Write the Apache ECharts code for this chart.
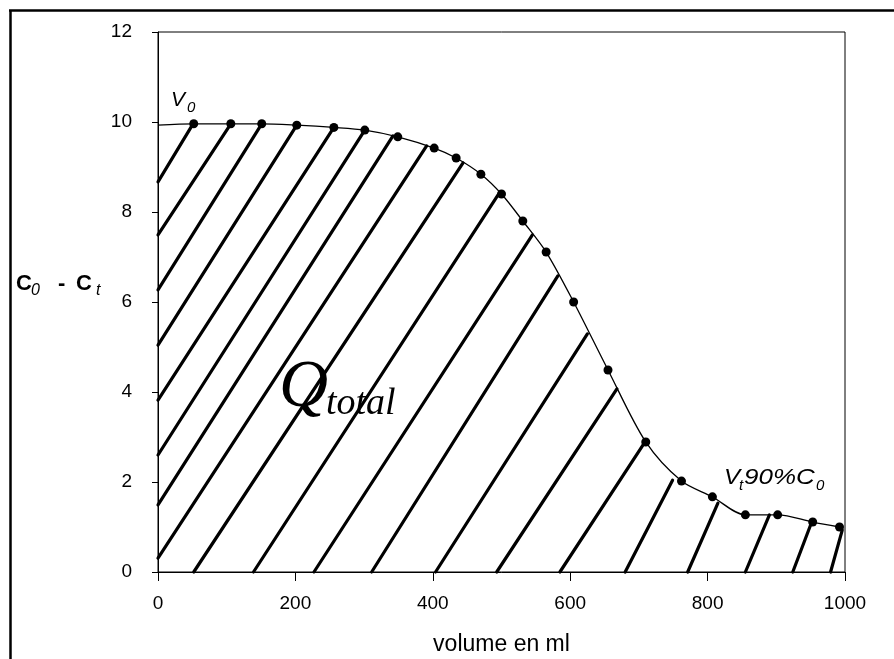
<!DOCTYPE html>
<html>
<head>
<meta charset="utf-8">
<script src="https://cdn.jsdelivr.net/npm/echarts@6/dist/echarts.min.js"></script>
<style>
  html, body { margin: 0; padding: 0; background: #fff; }
  #chart { width: 894px; height: 659px; }
</style>
</head>
<body>
<div id="chart"></div>
<script>
// Breakthrough curve: volume passed (ml) vs. C0 - Ct
const volumes = [0, 52, 106, 151, 202, 256, 301, 349, 402, 434, 470, 500, 531, 565, 605, 655, 710, 762, 807, 855, 902, 953, 992];
const values  = [9.93, 9.96, 9.96, 9.96, 9.93, 9.88, 9.82, 9.67, 9.42, 9.2, 8.84, 8.4, 7.8, 7.11, 6.0, 4.49, 2.89, 2.02, 1.67, 1.27, 1.27, 1.11, 1.0];

// Hand hatching of the area under the curve: upper end on the curve, lower end on an axis
const hatchTopX  = [51, 106, 151, 202, 256, 301, 342, 391, 444, 495, 545, 582, 625, 668, 708, 749, 815, 890, 951, 996];
const hatchTopY  = [9.96, 9.96, 9.96, 9.93, 9.88, 9.82, 9.69, 9.47, 9.09, 8.38, 7.49, 6.58, 5.29, 4.07, 2.87, 2.04, 1.53, 1.27, 1.09, 0.93];
const hatchBaseX = [0, 0, 0, 0, 0, 0, 0, 0, 52, 139, 227, 311, 404, 493, 585, 680, 771, 855, 924, 979];
const hatchBaseY = [8.67, 7.49, 6.27, 5.04, 3.82, 2.60, 1.49, 0.31, 0, 0, 0, 0, 0, 0, 0, 0, 0, 0, 0, 0];

const xMin = 0, xMax = 1000, xStep = 200;
const yMin = 0, yMax = 12, yStep = 2;

const SANS = 'Arial, "Liberation Sans", sans-serif';
const SERIF = '"Times New Roman", "Liberation Serif", serif';

const curveData = volumes.map((v, i) =>
  i === 0 ? { value: [v, values[i]], symbol: 'none' } : [v, values[i]]
);
const hatchData = hatchTopX.map((x, i) => [x, hatchTopY[i], hatchBaseX[i], hatchBaseY[i]]);

function txt(x, y, text, size, opts, sx) {
  return {
    type: 'text', x: x, y: y, silent: true, scaleX: sx || 1,
    style: Object.assign({
      text: text, fontSize: size, fontFamily: SANS, fill: '#000',
      align: 'left', verticalAlign: 'middle'
    }, opts || {})
  };
}

const chart = echarts.init(document.getElementById('chart'), null, { renderer: 'canvas' });
chart.setOption({
  animation: false,
  backgroundColor: '#fff',
  grid: {
    left: 158, right: 49, top: 32, bottom: 87,
    containLabel: false, outerBoundsMode: 'none',
    show: true, borderColor: '#000', borderWidth: 1, backgroundColor: 'transparent'
  },
  xAxis: {
    type: 'value', min: xMin, max: xMax, interval: xStep,
    name: 'volume en ml', nameLocation: 'middle', nameGap: 61,
    nameTextStyle: { fontSize: 23, fontFamily: SANS, color: '#000' },
    axisLine: { lineStyle: { color: '#000', width: 1 } },
    axisTick: { show: true, length: 9, lineStyle: { color: '#000' } },
    axisLabel: { fontSize: 19, fontFamily: SANS, color: '#000', margin: 22, formatter: v => String(v) },
    splitLine: { show: false }
  },
  yAxis: {
    type: 'value', min: yMin, max: yMax, interval: yStep,
    axisLine: { show: true, lineStyle: { color: '#000', width: 1 } },
    axisTick: { show: true, length: 6, lineStyle: { color: '#000' } },
    axisLabel: { fontSize: 19, fontFamily: SANS, color: '#000', margin: 26, formatter: v => String(v) },
    splitLine: { show: false }
  },
  series: [
    {
      type: 'custom',
      z: 1,
      data: hatchData,
      encode: { x: [0, 2], y: [1, 3] },
      renderItem: function (params, api) {
        const p1 = api.coord([api.value(0), api.value(1)]);
        const p2 = api.coord([api.value(2), api.value(3)]);
        return {
          type: 'line',
          shape: { x1: p1[0], y1: p1[1], x2: p2[0], y2: p2[1] },
          style: { stroke: '#000', lineWidth: 3.2, lineCap: 'round' }
        };
      }
    },
    {
      type: 'line',
      z: 3,
      data: curveData,
      smooth: 0.3,
      symbol: 'circle',
      symbolSize: 9,
      showAllSymbol: true,
      lineStyle: { color: '#000', width: 1.3 },
      itemStyle: { color: '#000', borderWidth: 0 }
    }
  ],
  graphic: [
    // outer frame
    { type: 'line', silent: true, shape: { x1: 10.5, y1: 10, x2: 10.5, y2: 659 }, style: { stroke: '#000', lineWidth: 2.5 } },
    { type: 'line', silent: true, shape: { x1: 9, y1: 10.5, x2: 894, y2: 10.5 }, style: { stroke: '#000', lineWidth: 2.5 } },
    // y-axis title
    txt(16, 284, 'C', 22, { fontWeight: 'bold' }),
    txt(31, 291, '0', 16, { fontStyle: 'italic' }),
    txt(58, 284, '-', 22, { fontWeight: 'bold' }),
    txt(76, 284, 'C', 22, { fontWeight: 'bold' }),
    txt(96, 291, 't', 16, { fontStyle: 'italic' }),
    // V0 label
    txt(171, 100, 'V', 21, { fontStyle: 'italic' }),
    txt(187, 108, '0', 15, { fontStyle: 'italic' }),
    // Vt 90% C0 label
    txt(724, 478, 'V', 22, { fontStyle: 'italic' }, 1.1),
    txt(739, 486, 't', 15, { fontStyle: 'italic' }),
    txt(744, 478, '90%C', 22, { fontStyle: 'italic' }, 1.18),
    txt(816, 486, '0', 15, { fontStyle: 'italic' }),
    // Q total
    txt(279, 388, 'Q', 68, { fontFamily: SERIF, fontStyle: 'italic' }),
    txt(326, 404, 'total', 38, { fontFamily: SERIF, fontStyle: 'italic' })
  ]
});
</script>
</body>
</html>
